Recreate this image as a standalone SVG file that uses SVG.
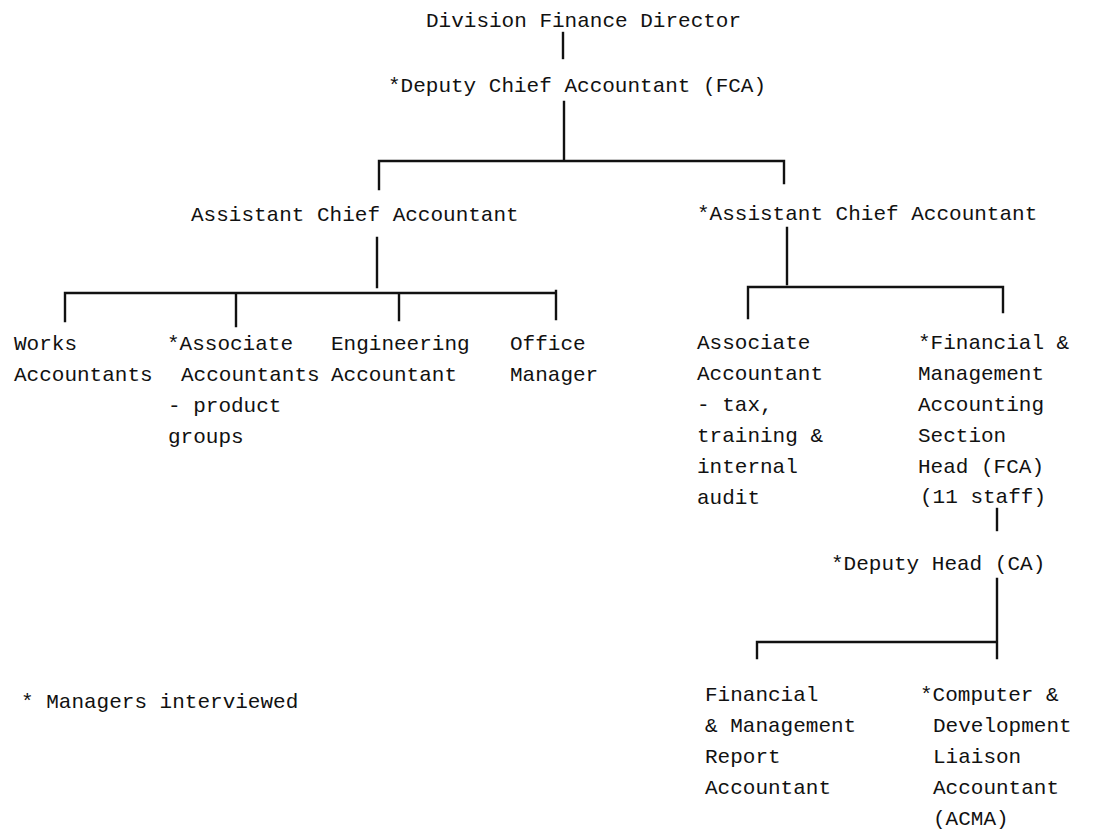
<svg xmlns="http://www.w3.org/2000/svg" width="1094" height="831" viewBox="0 0 1094 831">
  <style>
    text { font-family: "Liberation Mono", "DejaVu Sans Mono", monospace; font-size: 21px; fill: #111; }
    .ln { stroke: #111; stroke-width: 2.4; fill: none; stroke-linecap: square; }
  </style>
  <rect width="1094" height="831" fill="#fff"/>

  <!-- reporting lines -->
  <g id="connectors">
    <path class="ln" d="M563 33 V58"/>
    <path class="ln" d="M564 102 V159 M379 161 H784 M379 161 V189 M784 161 V183"/>
    <path class="ln" d="M377 238 V287 M65 293 H556 M65 293 V321 M236 293 V326 M399 293 V320 M556 291 V319"/>
    <path class="ln" d="M787 228 V284 M748 287 H1003 M748 287 V318 M1003 287 V312"/>
    <path class="ln" d="M997 509 V530"/>
    <path class="ln" d="M997 579 V658 M757 642 H997 M757 642 V658"/>
  </g>

  <g id="division-finance-director">
    <text x="426" y="27">Division Finance Director</text>
  </g>
  <g id="deputy-chief-accountant">
    <text x="388" y="92">*Deputy Chief Accountant (FCA)</text>
  </g>
  <g id="assistant-chief-accountant-left">
    <text x="191" y="221">Assistant Chief Accountant</text>
  </g>
  <g id="assistant-chief-accountant-right">
    <text x="697" y="220">*Assistant Chief Accountant</text>
  </g>

  <g id="works-accountants">
    <text x="14" y="350">Works</text>
    <text x="14" y="381">Accountants</text>
  </g>
  <g id="associate-accountants">
    <text x="167" y="350">*Associate</text>
    <text x="181" y="381">Accountants</text>
    <text x="168" y="412">- product</text>
    <text x="168" y="443">groups</text>
  </g>
  <g id="engineering-accountant">
    <text x="331" y="350">Engineering</text>
    <text x="331" y="381">Accountant</text>
  </g>
  <g id="office-manager">
    <text x="510" y="350">Office</text>
    <text x="510" y="381">Manager</text>
  </g>

  <g id="associate-accountant-tax">
    <text x="697" y="349">Associate</text>
    <text x="697" y="380">Accountant</text>
    <text x="697" y="411">- tax,</text>
    <text x="697" y="442">training &amp;</text>
    <text x="697" y="473">internal</text>
    <text x="697" y="504">audit</text>
  </g>
  <g id="fma-section-head">
    <text x="918" y="349">*Financial &amp;</text>
    <text x="918" y="380">Management</text>
    <text x="918" y="411">Accounting</text>
    <text x="918" y="442">Section</text>
    <text x="918" y="473">Head (FCA)</text>
    <text x="920" y="503">(11 staff)</text>
  </g>

  <g id="deputy-head">
    <text x="831" y="570">*Deputy Head (CA)</text>
  </g>

  <g id="report-accountant">
    <text x="705" y="701">Financial</text>
    <text x="705" y="732">&amp; Management</text>
    <text x="705" y="763">Report</text>
    <text x="705" y="794">Accountant</text>
  </g>
  <g id="computer-liaison-accountant">
    <text x="920" y="701">*Computer &amp;</text>
    <text x="933" y="732">Development</text>
    <text x="933" y="763">Liaison</text>
    <text x="933" y="794">Accountant</text>
    <text x="933" y="825">(ACMA)</text>
  </g>

  <g id="legend">
    <text x="21" y="708">* Managers interviewed</text>
  </g>
</svg>
